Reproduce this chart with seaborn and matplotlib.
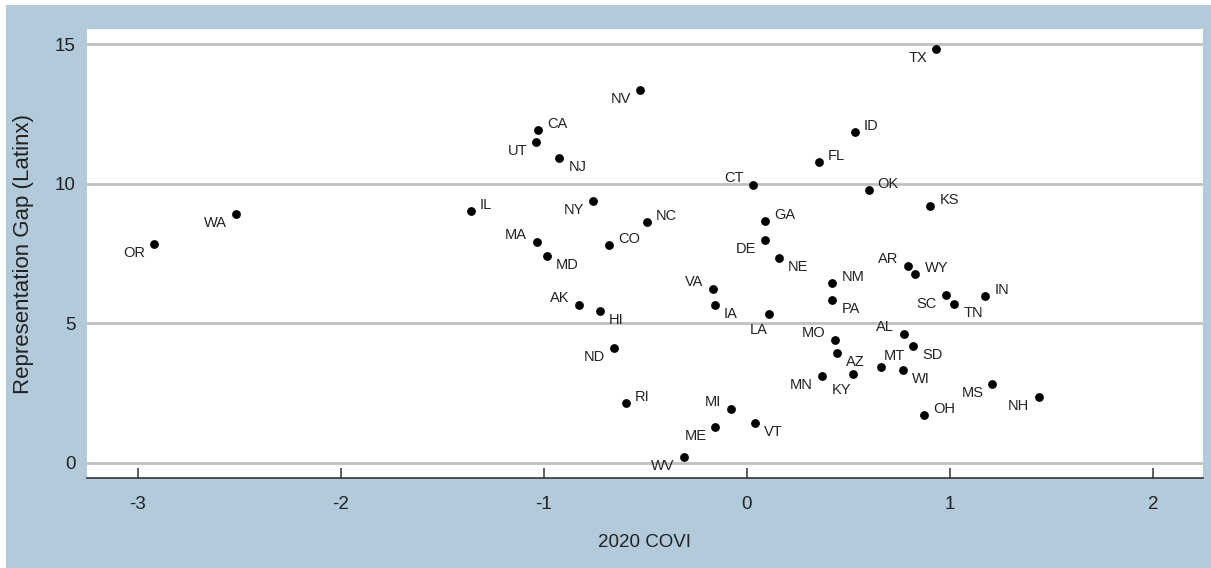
import matplotlib
matplotlib.use("Agg")
import matplotlib.pyplot as plt
from matplotlib import font_manager
from matplotlib.patches import Rectangle
import pandas as pd
import seaborn as sns

# Data: state, 2020 COVI, representation gap (Latinx)
states = ["OR", "WA", "IL", "CA", "UT", "NJ", "NV", "NY", "MA", "MD",
          "CO", "NC", "CT", "GA", "DE", "NE", "ID", "FL", "TX", "OK",
          "KS", "AR", "WY", "NM", "IN", "SC", "TN", "PA", "VA", "IA",
          "LA", "AK", "HI", "ND", "RI", "MI", "ME", "VT", "WV", "MO",
          "AL", "SD", "AZ", "MT", "WI", "MN", "KY", "OH", "MS", "NH"]
covi = [-2.920, -2.516, -1.359, -1.027, -1.037, -0.924, -0.526, -0.756, -1.035, -0.986,
        -0.680, -0.493, 0.031, 0.091, 0.088, 0.159, 0.530, 0.354, 0.931, 0.599,
        0.904, 0.793, 0.830, 0.421, 1.173, 0.978, 1.022, 0.421, -0.168, -0.157,
        0.111, -0.828, -0.723, -0.653, -0.595, -0.078, -0.155, 0.039, -0.311, 0.436,
        0.773, 0.820, 0.444, 0.660, 0.769, 0.370, 0.523, 0.874, 1.209, 1.436]
gap = [7.84, 8.93, 9.03, 11.91, 11.51, 10.91, 13.34, 9.39, 7.90, 7.41,
       7.81, 8.64, 9.96, 8.65, 7.99, 7.33, 11.86, 10.79, 14.84, 9.77,
       9.19, 7.07, 6.78, 6.46, 5.99, 6.00, 5.70, 5.82, 6.23, 5.64,
       5.32, 5.64, 5.44, 4.10, 2.15, 1.93, 1.29, 1.44, 0.21, 4.40,
       4.62, 4.20, 3.95, 3.44, 3.32, 3.11, 3.17, 1.73, 2.83, 2.35]

xticks = [-3, -2, -1, 0, 1, 2]
yticks = [0, 5, 10, 15]

# label placement (clock-style), styling only
label_pos = {}
for s in ["IL", "CA", "CO", "NC", "GA", "ID", "FL", "OK", "KS", "WY", "NM", "IN", "RI", "OH"]:
    label_pos[s] = "ur"
for s in ["OR", "WA", "UT", "NV", "NY", "DE", "TX", "SC", "ND", "ME", "WV", "MN", "MS", "NH"]:
    label_pos[s] = "ll"
for s in ["MA", "CT", "AR", "VA", "AK", "MI", "MO", "AL"]:
    label_pos[s] = "ul"
for s in ["NJ", "MD", "NE", "TN", "PA", "IA", "HI", "VT", "SD", "AZ", "WI"]:
    label_pos[s] = "lr"
for s in ["LA", "KY"]:
    label_pos[s] = "b"
label_pos["MT"] = "t"

offsets = {
    "ur": (6.5, 4.3, "left"),
    "ll": (-6.5, -6.5, "right"),
    "ul": (-7.0, 5.0, "right"),
    "lr": (6.5, -6.5, "left"),
    "b": (-1.0, -11.0, "right"),
    "t": (2.0, 8.0, "left"),
}

names = {f.name for f in font_manager.fontManager.ttflist}
base = "Liberation Sans" if "Liberation Sans" in names else "DejaVu Sans"

df = pd.DataFrame({"state": states, "covi": covi, "gap": gap})

sns.set_style("white")
plt.rcParams["font.family"] = [base]

bg = "#b3cadb"
txt = "#222222"

fig = plt.figure(figsize=(12.11, 5.68), dpi=100)
fig.patch.set_facecolor("white")
fig.patches.append(Rectangle((6 / 1211, 0), 1 - 6 / 1211, 1 - 5 / 568,
                             transform=fig.transFigure, facecolor=bg,
                             edgecolor="none", zorder=-10))

ax = fig.add_axes([87 / 1211, 1 - 478 / 568, (1203 - 87) / 1211, (478 - 29) / 568])
ax.set_facecolor("white")

for yv in yticks:
    ax.axhline(yv, color="#c0c0c0", lw=2.0, zorder=1)

sns.scatterplot(data=df, x="covi", y="gap", color="black", s=40,
                edgecolor="black", linewidth=0, ax=ax, zorder=3)

for s, xv, yv in zip(states, covi, gap):
    dx, dy, ha = offsets[label_pos[s]]
    ax.annotate(s, (xv, yv), xytext=(dx, dy), textcoords="offset points",
                ha=ha, va="center", fontsize=10.5, color=txt, zorder=4)

ax.set_xlim(-3.25, 2.246)
ax.set_ylim(-0.54, 15.54)
ax.set_xticks(xticks)
ax.set_xticklabels([str(v) for v in xticks])
ax.set_yticks(yticks)
ax.set_yticklabels([str(v) for v in yticks])

for side in ["top", "right", "left"]:
    ax.spines[side].set_visible(False)
ax.spines["bottom"].set_color("#333333")
ax.spines["bottom"].set_linewidth(1.2)

ax.tick_params(axis="x", bottom=True, direction="in", length=7, width=1.1,
               color="#333333", pad=13, labelsize=13.5, labelcolor=txt)
ax.tick_params(axis="y", left=False, length=0, pad=8, labelsize=13.5, labelcolor=txt)

ax.set_xlabel("2020 COVI", fontsize=13.5, color=txt, labelpad=15)
ax.set_ylabel("Representation Gap (Latinx)", fontsize=16, color=txt, labelpad=15)

fig.savefig("out.png", dpi=100)
